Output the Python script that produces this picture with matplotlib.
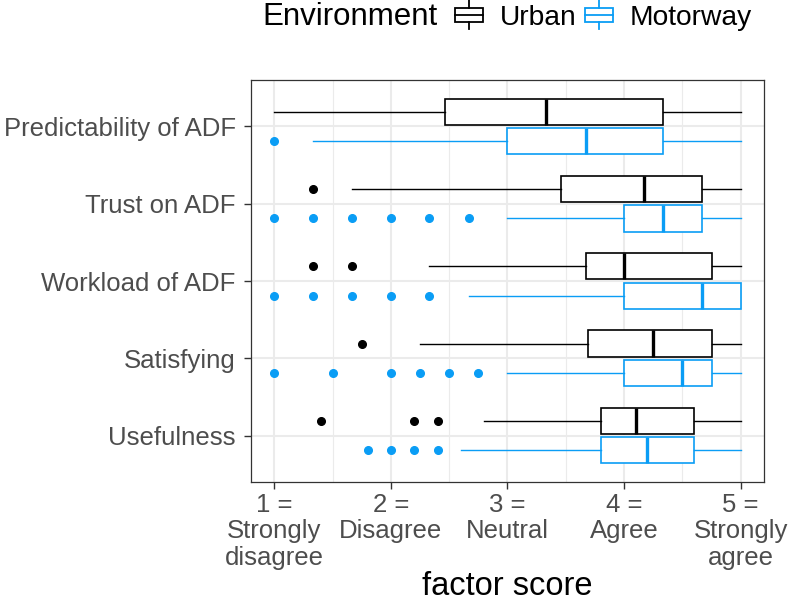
import matplotlib.pyplot as plt
from matplotlib.legend_handler import HandlerBase
from matplotlib.patches import Patch, Rectangle
from matplotlib.lines import Line2D

plt.rcParams['font.family'] = ['Liberation Sans', 'DejaVu Sans']

# factors, bottom to top
factors = ["Usefulness", "Satisfying", "Workload of ADF", "Trust on ADF", "Predictability of ADF"]

urban_lo = [2.8, 2.25, 2.33, 1.67, 1.0]
urban_q1 = [3.8, 3.69, 3.67, 3.46, 2.46]
urban_med = [4.1, 4.25, 4.0, 4.17, 3.33]
urban_q3 = [4.6, 4.75, 4.75, 4.67, 4.33]
urban_hi = [5.0, 5.0, 5.0, 5.0, 5.0]
urban_out = [[1.4, 2.2, 2.4], [1.75], [1.33, 1.67], [1.33], []]

motor_lo = [2.6, 3.0, 2.67, 3.0, 1.33]
motor_q1 = [3.8, 4.0, 4.0, 4.0, 3.0]
motor_med = [4.2, 4.5, 4.67, 4.33, 3.67]
motor_q3 = [4.6, 4.75, 5.0, 4.67, 4.33]
motor_hi = [5.0, 5.0, 5.0, 5.0, 5.0]
motor_out = [[1.8, 2.0, 2.2, 2.4], [1.0, 1.5, 2.0, 2.25, 2.5, 2.75],
             [1.0, 1.33, 1.67, 2.0, 2.33], [1.0, 1.33, 1.67, 2.0, 2.33, 2.67], [1.0]]

score_ticks = [1, 2, 3, 4, 5]
score_labels = ["1 =\nStrongly\ndisagree", "2 =\nDisagree", "3 =\nNeutral",
                "4 =\nAgree", "5 =\nStrongly\nagree"]

URBAN = "black"
MOTOR = "#0A9DF5"


def make_stats(lo, q1, med, q3, hi, out):
    return [dict(whislo=a, q1=b, med=c, q3=d, whishi=e, fliers=f)
            for a, b, c, d, e, f in zip(lo, q1, med, q3, hi, out)]


class BoxKey(HandlerBase):
    # little boxplot glyph for the legend keys
    def create_artists(self, legend, orig_handle, xdescent, ydescent,
                       width, height, fontsize, trans):
        c = orig_handle.get_edgecolor()
        x0, y0 = -xdescent, -ydescent
        cx = x0 + width / 2
        bh = height * 0.62
        by = y0 + (height - bh) / 2
        rect = Rectangle((x0, by), width, bh, facecolor="white", edgecolor=c,
                         lw=1.3, transform=trans)
        med = Line2D([x0, x0 + width], [y0 + height / 2] * 2, color=c, lw=1.3, transform=trans)
        w1 = Line2D([cx, cx], [y0 - height * 0.12, by], color=c, lw=1.3, transform=trans)
        w2 = Line2D([cx, cx], [by + bh, y0 + height * 1.12], color=c, lw=1.3, transform=trans)
        return [rect, med, w1, w2]


fig = plt.figure(figsize=(7.88, 6.06), dpi=100)
ax = fig.add_axes([0.3185, 0.2046, 0.651, 0.6634])

pos = list(range(1, len(factors) + 1))
off = 0.19
for stats, color, shift in [(make_stats(urban_lo, urban_q1, urban_med, urban_q3, urban_hi, urban_out), URBAN, off),
                            (make_stats(motor_lo, motor_q1, motor_med, motor_q3, motor_hi, motor_out), MOTOR, -off)]:
    ax.bxp(stats, positions=[p + shift for p in pos], widths=0.34, vert=False,
           showcaps=False, patch_artist=True,
           boxprops=dict(facecolor="white", edgecolor=color, linewidth=1.2),
           medianprops=dict(color=color, linewidth=2.4),
           whiskerprops=dict(color=color, linewidth=1.0),
           flierprops=dict(marker="o", markerfacecolor=color, markeredgecolor=color,
                           markersize=5.5, linestyle="none"),
           zorder=3)

ax.set_xlim(0.8, 5.2)
ax.set_ylim(0.4, 5.6)
ax.set_yticks(pos)
ax.set_yticklabels(factors)
ax.set_xticks(score_ticks)
ax.set_xticklabels(score_labels, linespacing=1.12)
ax.set_xticks([1.5, 2.5, 3.5, 4.5], minor=True)
ax.tick_params(axis="x", which="minor", length=0)
ax.tick_params(which="major", length=5, width=1, color="#333333", labelcolor="#4D4D4D",
               labelsize=18.5)
ax.tick_params(axis="x", which="major", pad=3)
ax.tick_params(axis="y", which="major", pad=6)
ax.grid(True, which="major", color="#EBEBEB", linewidth=1.5, zorder=0)
ax.grid(True, which="minor", axis="x", color="#EBEBEB", linewidth=0.8, zorder=0)
ax.set_axisbelow(True)
for s in ax.spines.values():
    s.set_color("#333333")
    s.set_linewidth(0.9)
ax.set_xlabel("factor score", fontsize=23.5, labelpad=1)

fig.text(0.3325, 0.972, "Environment", fontsize=22.5, va="center", ha="left")
handles = [Patch(facecolor="white", edgecolor=URBAN), Patch(facecolor="white", edgecolor=MOTOR)]
fig.legend(handles, ["Urban", "Motorway"], handler_map={Patch: BoxKey()},
           loc="center left", bbox_to_anchor=(0.577, 0.972), ncol=2, frameon=False,
           fontsize=20.3, handlelength=1.0, handleheight=0.9, handletextpad=0.6,
           columnspacing=0.3, borderaxespad=0, borderpad=0)

fig.savefig("out.png", dpi=100)
